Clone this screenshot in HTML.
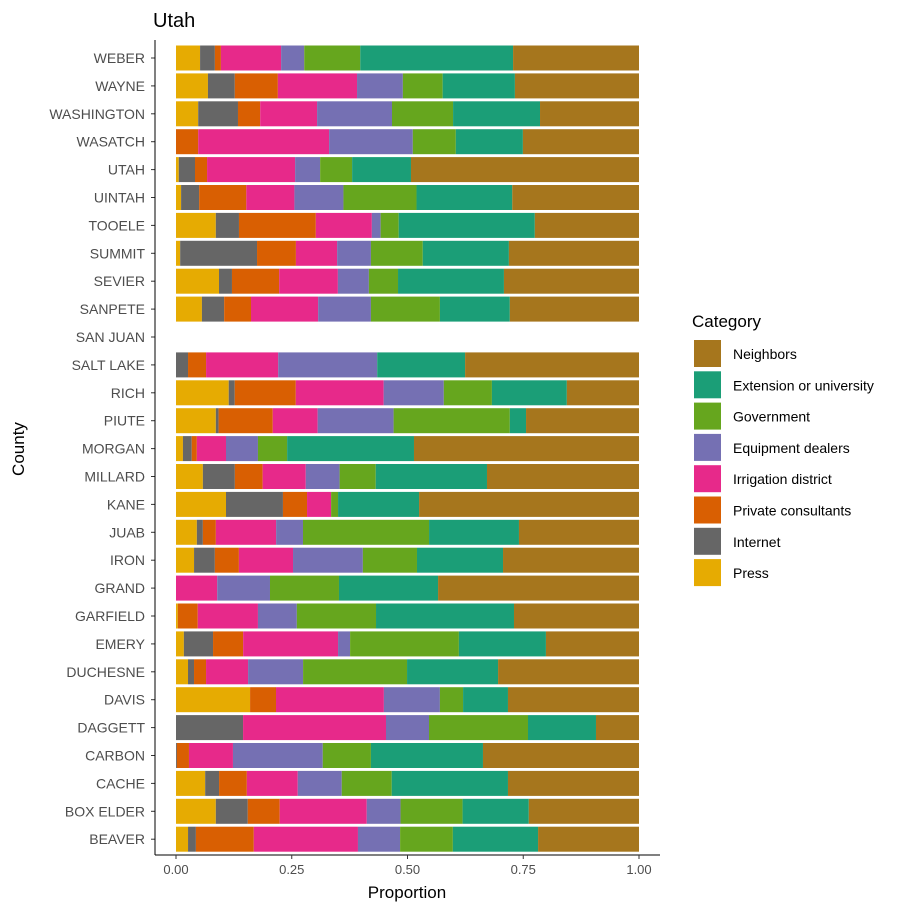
<!DOCTYPE html>
<html><head><meta charset="utf-8"><style>
body{margin:0;background:#fff;}
svg{font-family:"Liberation Sans",sans-serif;}
</style></head><body>
<svg id="chart" width="913" height="913"></svg>
<script>
const counties=["WEBER","WAYNE","WASHINGTON","WASATCH","UTAH","UINTAH","TOOELE","SUMMIT","SEVIER","SANPETE","SAN JUAN","SALT LAKE","RICH","PIUTE","MORGAN","MILLARD","KANE","JUAB","IRON","GRAND","GARFIELD","EMERY","DUCHESNE","DAVIS","DAGGETT","CARBON","CACHE","BOX ELDER","BEAVER"];
const categories=["Press","Internet","Private consultants","Irrigation district","Equipment dealers","Government","Extension or university","Neighbors"];
const press=[5.2,6.9,4.8,0,0.6,1.1,8.6,0.9,9.3,5.6,0,0,11.4,8.6,1.5,5.8,10.8,4.5,3.9,0,0.4,1.7,2.6,16.0,0,0,6.3,8.6,2.6];
const internet=[3.2,5.8,8.6,0,3.5,3.9,5.0,16.6,2.8,4.8,0,2.6,1.3,0.6,1.9,6.9,12.3,1.3,4.5,0,0,6.3,1.3,0,14.5,0.2,3.0,6.9,1.7];
const privateCons=[1.3,9.3,4.8,4.8,2.6,10.2,16.6,8.4,10.2,5.8,0,3.9,13.2,11.7,1.1,6.0,5.2,2.8,5.2,0,4.3,6.5,2.6,5.6,0,2.6,6.0,6.9,12.5];
const irrigation=[13.0,17.1,12.3,28.3,19.0,10.4,12.1,8.9,12.7,14.5,0,15.6,19.0,9.7,6.3,9.3,5.2,13.0,11.7,8.9,13.0,20.5,9.1,23.3,30.9,9.5,11.0,18.8,22.5];
const equipment=[5.0,9.9,16.2,18.1,5.4,10.6,1.9,7.3,6.7,11.4,0,21.4,13.0,16.4,6.9,7.3,0,5.8,15.1,11.4,8.4,2.6,11.9,12.1,9.3,19.4,9.5,7.3,9.1];
const government=[12.1,8.6,13.2,9.3,6.9,15.8,3.9,11.2,6.3,14.9,0,0,10.4,25.1,6.3,7.8,1.5,27.2,11.7,14.9,17.1,23.5,22.5,5.0,21.4,10.4,10.8,13.4,11.4];
const extension=[33.0,15.6,18.8,14.5,12.7,20.7,29.4,18.6,22.9,15.1,0,19.0,16.2,3.5,27.4,24.0,17.5,19.4,18.6,21.4,29.8,18.8,19.7,9.7,14.7,24.2,25.1,14.3,18.4];
const neighbors=[27.2,26.8,21.4,25.1,49.2,27.4,22.5,28.1,29.2,27.9,0,37.6,15.6,24.4,48.6,32.8,47.5,25.9,29.4,43.4,27.0,20.1,30.5,28.3,9.3,33.7,28.3,23.8,21.8];
const xTicks=[0,0.25,0.5,0.75,1];
const xTickLabels=["0.00","0.25","0.50","0.75","1.00"];
const legendOrder=["Neighbors","Extension or university","Government","Equipment dealers","Irrigation district","Private consultants","Internet","Press"];

const colors={"Press":"#E6AB02","Internet":"#666666","Private consultants":"#D95F02","Irrigation district":"#E7298A","Equipment dealers":"#7570B3","Government":"#66A61E","Extension or university":"#1B9E77","Neighbors":"#A6761D"};
const series=[press,internet,privateCons,irrigation,equipment,government,extension,neighbors];
const NS="http://www.w3.org/2000/svg";
const svg=document.getElementById('chart');
function mk(t,a,p){const e=document.createElementNS(NS,t);for(const k in a)e.setAttribute(k,a[k]);(p||svg).appendChild(e);return e;}
const x0=176,x1=639;
const xs=v=>x0+v*(x1-x0);
const yTop=58,step=27.9,bh=25;
const ys=i=>yTop+i*step;

const title=mk('text',{x:153,y:27,'font-size':20,fill:'#000'});title.textContent='Utah';



const bars=mk('g',{});


counties.forEach((c,i)=>{
  let tot=0;series.forEach(s=>tot+=s[i]);
  let cum=0;
  series.forEach((s,k)=>{
    if(tot<=0||s[i]<=0)return;
    const a=cum/tot,b=(cum+s[i])/tot;cum+=s[i];
    const r=mk('rect',{x:xs(a),y:ys(i)-bh/2,width:Math.max(0,xs(b)-xs(a)),height:bh,fill:colors[categories[k]]},bars);
    
    
  });
  const t=mk('text',{x:145,y:ys(i)+5,'font-size':14,fill:'#4d4d4d','text-anchor':'end'});
  t.textContent=c;
  
  
  const tk=mk('line',{x1:151,x2:155,y1:ys(i),y2:ys(i),stroke:'#333','stroke-width':1});
  
  
});
const ya=mk('line',{x1:155,x2:155,y1:40,y2:855,stroke:'#000','stroke-width':1});


const xa=mk('line',{x1:155,x2:660,y1:855,y2:855,stroke:'#000','stroke-width':1});


xTicks.forEach((v,i)=>{
  const l=mk('line',{x1:xs(v),x2:xs(v),y1:855,y2:859,stroke:'#333'});
  
  
  const t=mk('text',{x:xs(v),y:874,'font-size':13,fill:'#4d4d4d','text-anchor':'middle'});
  t.textContent=xTickLabels[i];
  
  
});
const xt=mk('text',{x:407,y:898,'font-size':17,fill:'#000','text-anchor':'middle'});xt.textContent='Proportion';


const yt=mk('text',{x:0,y:0,'font-size':17,fill:'#000','text-anchor':'middle',transform:'translate(24,449) rotate(-90)'});yt.textContent='County';



const lg=mk('g',{});


const lt=mk('text',{x:692,y:327,'font-size':17,fill:'#000'},lg);lt.textContent='Category';


legendOrder.forEach((n,i)=>{
  const y=340+i*31.3;
  const r=mk('rect',{x:694,y:y,width:27,height:27,fill:colors[n]},lg);
  
  
  const t=mk('text',{x:733,y:y+19,'font-size':14,fill:'#000'},lg);t.textContent=n;
  
  
});
</script>
</body></html>
